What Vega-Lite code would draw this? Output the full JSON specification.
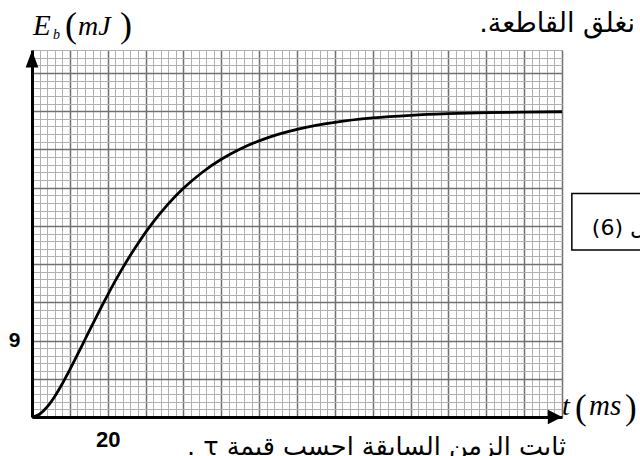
{
  "$schema": "https://vega.github.io/schema/vega-lite/v6.json",
  "autosize": {"type": "none"},
  "width": 530,
  "height": 367,
  "padding": {"left": 32, "top": 50, "right": 78, "bottom": 39},
  "background": "white",
  "config": {"view": {"stroke": null}},
  "resolve": {"axis": {"x": "independent", "y": "independent"}},
  "layer": [
    {
      "data": {"values": [
        {"t": 0, "E": 0}, {"t": 2, "E": 0.326}, {"t": 4, "E": 1.183}, {"t": 6, "E": 2.418},
        {"t": 8, "E": 3.913}, {"t": 10, "E": 5.573}, {"t": 12, "E": 7.329}, {"t": 14, "E": 9.123},
        {"t": 16, "E": 10.917}, {"t": 18, "E": 12.678}, {"t": 20, "E": 14.385}, {"t": 24, "E": 17.58},
        {"t": 28, "E": 20.434}, {"t": 32, "E": 22.931}, {"t": 36, "E": 25.082}, {"t": 40, "E": 26.915},
        {"t": 45, "E": 28.811}, {"t": 50, "E": 30.332}, {"t": 55, "E": 31.544}, {"t": 60, "E": 32.505},
        {"t": 65, "E": 33.262}, {"t": 70, "E": 33.859}, {"t": 75, "E": 34.327}, {"t": 80, "E": 34.693},
        {"t": 90, "E": 35.205}, {"t": 100, "E": 35.516}, {"t": 110, "E": 35.706}, {"t": 120, "E": 35.822},
        {"t": 130, "E": 35.892}, {"t": 140, "E": 35.934}
      ]},
      "mark": {"type": "line", "color": "black", "strokeWidth": 2.8, "interpolate": "monotone"},
      "encoding": {
        "x": {"field": "t", "type": "quantitative", "scale": {"domain": [0, 140], "nice": false},
          "axis": {"orient": "bottom", "values": [0,2,4,6,8,10,12,14,16,18,20,22,24,26,28,30,32,34,36,38,40,42,44,46,48,50,52,54,56,58,60,62,64,66,68,70,72,74,76,78,80,82,84,86,88,90,92,94,96,98,100,102,104,106,108,110,112,114,116,118,120,122,124,126,128,130,132,134,136,138,140],
            "grid": true, "gridColor": "#b0b0b0", "gridWidth": 1, "gridOpacity": 1, "domain": false, "ticks": false, "labels": false, "title": null}},
        "y": {"field": "E", "type": "quantitative", "scale": {"domain": [0, 43.2], "nice": false},
          "axis": {"orient": "left", "values": [0,0.9,1.8,2.7,3.6,4.5,5.4,6.3,7.2,8.1,9,9.9,10.8,11.7,12.6,13.5,14.4,15.3,16.2,17.1,18,18.9,19.8,20.7,21.6,22.5,23.4,24.3,25.2,26.1,27,27.9,28.8,29.7,30.6,31.5,32.4,33.3,34.2,35.1,36,36.9,37.8,38.7,39.6,40.5,41.4,42.3,43.2],
            "grid": true, "gridColor": "#b0b0b0", "gridWidth": 1, "gridOpacity": 1, "domain": false, "ticks": false, "labels": false, "title": null}}
      }
    },
    {
      "data": {"values": [{}]},
      "mark": {"type": "point", "shape": "M0,-1L0.75,1L-0.75,1Z", "size": 289, "filled": true, "color": "black", "opacity": 1, "yOffset": 9},
      "encoding": {
        "x": {"datum": 0, "type": "quantitative", "scale": {"domain": [0, 140], "nice": false},
          "axis": {"orient": "bottom", "values": [0,10,20,30,40,50,60,70,80,90,100,110,120,130,140],
            "grid": true, "gridColor": "#707070", "gridWidth": 1.5, "gridOpacity": 1,
            "domain": true, "domainColor": "black", "domainWidth": 3, "ticks": false,
            "labels": true, "labelExpr": "datum.value == 20 ? '20' : ''", "labelFont": "Liberation Sans",
            "labelFontSize": 22, "labelFontWeight": "bold", "labelColor": "black", "labelPadding": 12,
            "labelDx": 10, "labelOverlap": false, "labelFlush": false, "labelBound": false, "title": null}},
        "y": {"datum": 43.2, "type": "quantitative", "scale": {"domain": [0, 43.2], "nice": false},
          "axis": {"orient": "left", "values": [0,4.5,9,13.5,18,22.5,27,31.5,36,40.5],
            "grid": true, "gridColor": "#707070", "gridWidth": 1.5, "gridOpacity": 1,
            "domain": true, "domainColor": "black", "domainWidth": 3, "ticks": false,
            "labels": true, "labelExpr": "datum.value == 9 ? '9' : ''", "labelFont": "Liberation Sans",
            "labelFontSize": 21, "labelFontWeight": "bold", "labelColor": "black", "labelPadding": 12,
            "labelOverlap": false, "labelFlush": false, "labelBound": false, "title": null}}
      }
    },
    {
      "data": {"values": [{}]},
      "mark": {"type": "point", "shape": "M1,0L-1,-1L-1,1Z", "size": 207, "filled": true, "color": "black", "opacity": 1, "xOffset": -7},
      "encoding": {
        "x": {"datum": 140, "type": "quantitative", "scale": {"domain": [0, 140], "nice": false}, "axis": null},
        "y": {"datum": 0, "type": "quantitative", "scale": {"domain": [0, 43.2], "nice": false}, "axis": null}
      }
    },
    {
      "data": {"values": [{}]},
      "mark": {"type": "rect", "fill": "white", "stroke": "black", "strokeWidth": 1.5},
      "encoding": {
        "x": {"datum": 142.6, "type": "quantitative", "scale": {"domain": [0, 140], "nice": false}, "axis": null},
        "x2": {"datum": 175},
        "y": {"datum": 26.3, "type": "quantitative", "scale": {"domain": [0, 43.2], "nice": false}, "axis": null},
        "y2": {"datum": 19.66}
      }
    },
    {
      "data": {"values": [{}]},
      "mark": {"type": "text", "text": "(6) الشكل", "font": "DejaVu Sans", "fontSize": 22, "align": "left", "baseline": "alphabetic", "color": "black", "dx": 20, "dy": -15},
      "encoding": {
        "x": {"datum": 142.6, "type": "quantitative", "scale": {"domain": [0, 140], "nice": false}, "axis": null},
        "y": {"datum": 19.66, "type": "quantitative", "scale": {"domain": [0, 43.2], "nice": false}, "axis": null}
      }
    },
    {
      "data": {"values": [{}]},
      "mark": {"type": "text", "text": "E", "font": "Liberation Serif", "fontStyle": "italic", "fontSize": 29, "align": "left", "baseline": "alphabetic", "color": "black", "dx": 1, "dy": -15},
      "encoding": {
        "x": {"datum": 0, "type": "quantitative", "scale": {"domain": [0, 140], "nice": false}, "axis": null},
        "y": {"datum": 43.2, "type": "quantitative", "scale": {"domain": [0, 43.2], "nice": false}, "axis": null}
      }
    },
    {
      "data": {"values": [{}]},
      "mark": {"type": "text", "text": "b", "font": "Liberation Serif", "fontStyle": "italic", "fontSize": 14, "align": "left", "baseline": "alphabetic", "color": "black", "dx": 21, "dy": -11},
      "encoding": {
        "x": {"datum": 0, "type": "quantitative", "scale": {"domain": [0, 140], "nice": false}, "axis": null},
        "y": {"datum": 43.2, "type": "quantitative", "scale": {"domain": [0, 43.2], "nice": false}, "axis": null}
      }
    },
    {
      "data": {"values": [{}]},
      "mark": {"type": "text", "text": "(", "font": "Liberation Serif", "fontSize": 36, "align": "left", "baseline": "alphabetic", "color": "black", "dx": 33, "dy": -13},
      "encoding": {
        "x": {"datum": 0, "type": "quantitative", "scale": {"domain": [0, 140], "nice": false}, "axis": null},
        "y": {"datum": 43.2, "type": "quantitative", "scale": {"domain": [0, 43.2], "nice": false}, "axis": null}
      }
    },
    {
      "data": {"values": [{}]},
      "mark": {"type": "text", "text": "mJ", "font": "Liberation Serif", "fontStyle": "italic", "fontSize": 28, "align": "left", "baseline": "alphabetic", "color": "black", "dx": 46, "dy": -15},
      "encoding": {
        "x": {"datum": 0, "type": "quantitative", "scale": {"domain": [0, 140], "nice": false}, "axis": null},
        "y": {"datum": 43.2, "type": "quantitative", "scale": {"domain": [0, 43.2], "nice": false}, "axis": null}
      }
    },
    {
      "data": {"values": [{}]},
      "mark": {"type": "text", "text": ")", "font": "Liberation Serif", "fontSize": 36, "align": "left", "baseline": "alphabetic", "color": "black", "dx": 88, "dy": -13},
      "encoding": {
        "x": {"datum": 0, "type": "quantitative", "scale": {"domain": [0, 140], "nice": false}, "axis": null},
        "y": {"datum": 43.2, "type": "quantitative", "scale": {"domain": [0, 43.2], "nice": false}, "axis": null}
      }
    },
    {
      "data": {"values": [{}]},
      "mark": {"type": "text", "text": "t", "font": "Liberation Serif", "fontStyle": "italic", "fontSize": 28, "align": "left", "baseline": "alphabetic", "color": "black", "dx": 0, "dy": -2},
      "encoding": {
        "x": {"datum": 140, "type": "quantitative", "scale": {"domain": [0, 140], "nice": false}, "axis": null},
        "y": {"datum": 0, "type": "quantitative", "scale": {"domain": [0, 43.2], "nice": false}, "axis": null}
      }
    },
    {
      "data": {"values": [{}]},
      "mark": {"type": "text", "text": "(", "font": "Liberation Serif", "fontSize": 35, "align": "left", "baseline": "alphabetic", "color": "black", "dx": 13, "dy": 2},
      "encoding": {
        "x": {"datum": 140, "type": "quantitative", "scale": {"domain": [0, 140], "nice": false}, "axis": null},
        "y": {"datum": 0, "type": "quantitative", "scale": {"domain": [0, 43.2], "nice": false}, "axis": null}
      }
    },
    {
      "data": {"values": [{}]},
      "mark": {"type": "text", "text": "ms", "font": "Liberation Serif", "fontStyle": "italic", "fontSize": 29, "align": "left", "baseline": "alphabetic", "color": "black", "dx": 27, "dy": -2},
      "encoding": {
        "x": {"datum": 140, "type": "quantitative", "scale": {"domain": [0, 140], "nice": false}, "axis": null},
        "y": {"datum": 0, "type": "quantitative", "scale": {"domain": [0, 43.2], "nice": false}, "axis": null}
      }
    },
    {
      "data": {"values": [{}]},
      "mark": {"type": "text", "text": ")", "font": "Liberation Serif", "fontSize": 35, "align": "left", "baseline": "alphabetic", "color": "black", "dx": 63, "dy": 2},
      "encoding": {
        "x": {"datum": 140, "type": "quantitative", "scale": {"domain": [0, 140], "nice": false}, "axis": null},
        "y": {"datum": 0, "type": "quantitative", "scale": {"domain": [0, 43.2], "nice": false}, "axis": null}
      }
    },
    {
      "data": {"values": [{}]},
      "mark": {"type": "text", "text": ".نغلق القاطعة", "font": "DejaVu Sans", "fontSize": 27, "align": "right", "baseline": "alphabetic", "color": "black", "dx": 73, "dy": -18},
      "encoding": {
        "x": {"datum": 140, "type": "quantitative", "scale": {"domain": [0, 140], "nice": false}, "axis": null},
        "y": {"datum": 43.2, "type": "quantitative", "scale": {"domain": [0, 43.2], "nice": false}, "axis": null}
      }
    },
    {
      "data": {"values": [{}]},
      "mark": {"type": "text", "text": ". τ ثابت الزمن السابقة احسب قيمة", "font": "DejaVu Sans", "fontSize": 25.5, "align": "left", "baseline": "alphabetic", "color": "black", "dx": 155, "dy": 38},
      "encoding": {
        "x": {"datum": 0, "type": "quantitative", "scale": {"domain": [0, 140], "nice": false}, "axis": null},
        "y": {"datum": 0, "type": "quantitative", "scale": {"domain": [0, 43.2], "nice": false}, "axis": null}
      }
    }
  ]
}
